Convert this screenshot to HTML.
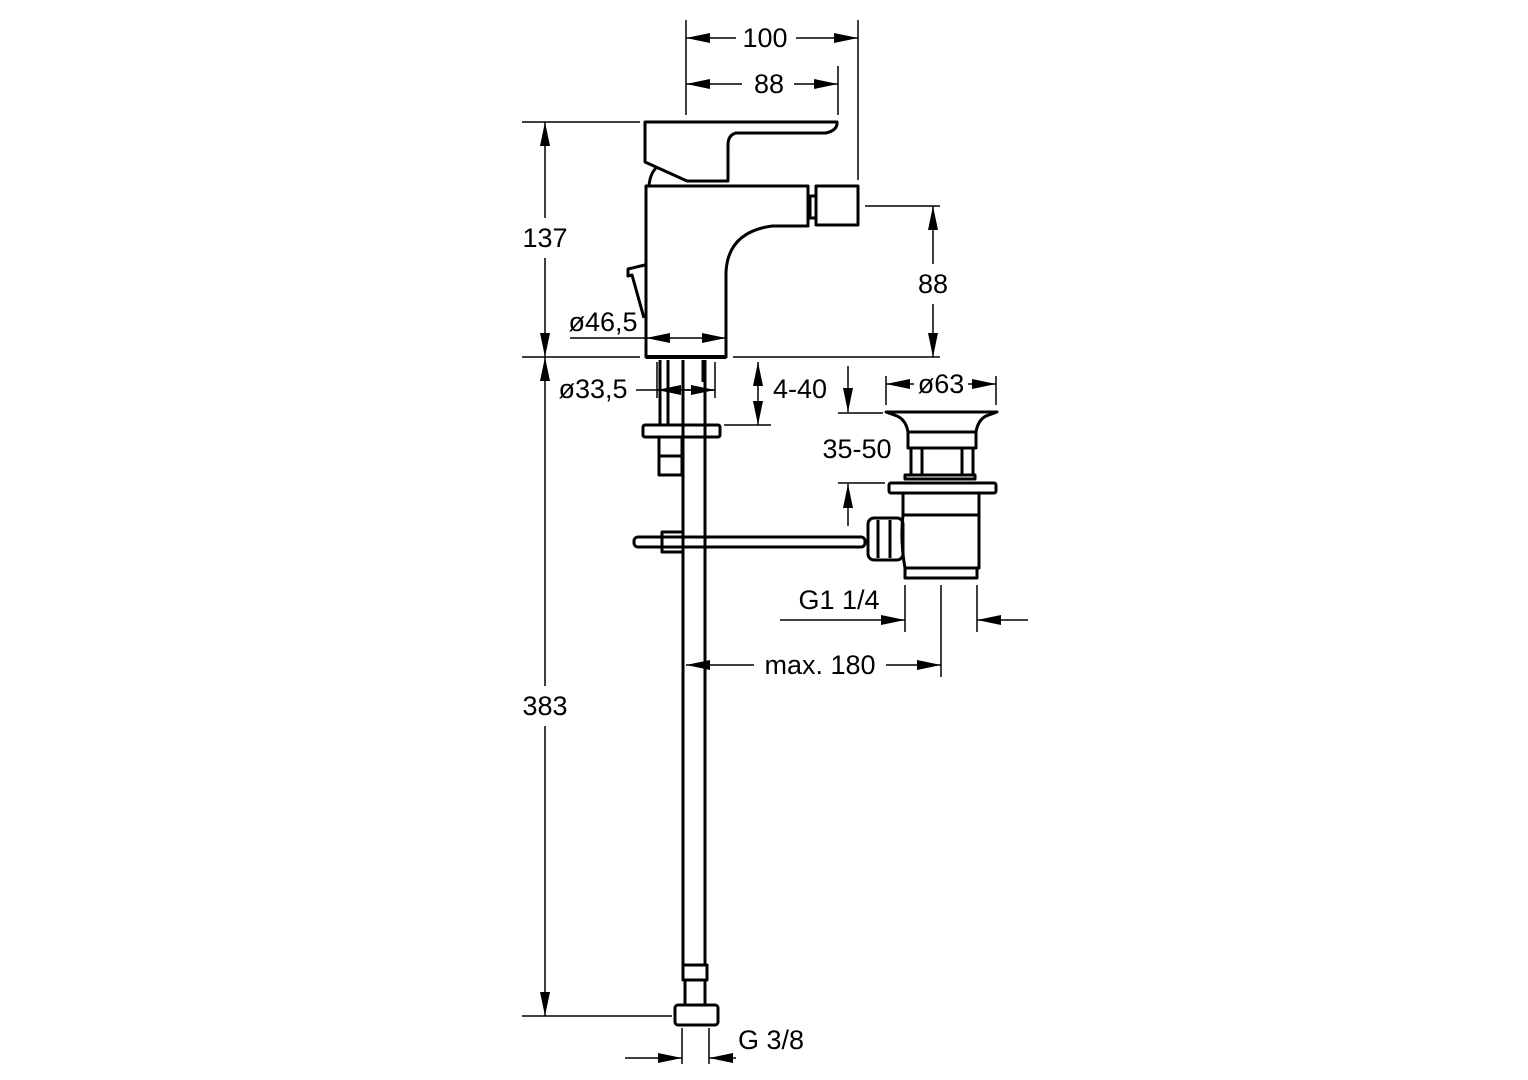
<!DOCTYPE html>
<html><head><style>html,body{margin:0;padding:0;background:#fff}svg{display:block}text{font-family:"Liberation Sans",sans-serif;font-size:27px;fill:#000}</style></head><body>
<svg width="1528" height="1080" viewBox="0 0 1528 1080" xmlns="http://www.w3.org/2000/svg">
<defs>
<marker id="a" viewBox="0 0 24 10" refX="24" refY="5" markerWidth="24" markerHeight="10" markerUnits="userSpaceOnUse" orient="auto-start-reverse"><path d="M0,0L24,5L0,10z" fill="#000"/></marker>
</defs>
<g stroke="#000" stroke-width="1.5" fill="none">
<line x1="686" y1="20" x2="686" y2="115"/><line x1="858" y1="20" x2="858" y2="180"/>
<line x1="838" y1="66" x2="838" y2="115"/>
<line x1="522" y1="122" x2="640" y2="122"/>
<line x1="522" y1="357" x2="640" y2="357"/><line x1="733" y1="357" x2="940" y2="357"/>
<line x1="865" y1="206" x2="940" y2="206"/>
<line x1="522" y1="1016" x2="672" y2="1016"/>
<line x1="657" y1="362" x2="657" y2="398"/><line x1="715" y1="362" x2="715" y2="398"/>
<line x1="724" y1="425" x2="771" y2="425"/>
<line x1="886" y1="376" x2="886" y2="405"/><line x1="996" y1="376" x2="996" y2="405"/>
<line x1="838" y1="413" x2="883" y2="413"/><line x1="838" y1="483" x2="885" y2="483"/>
<line x1="905" y1="585" x2="905" y2="632"/><line x1="977" y1="585" x2="977" y2="632"/><line x1="941" y1="585" x2="941" y2="677"/>
<line x1="682" y1="1028" x2="682" y2="1064"/><line x1="709" y1="1028" x2="709" y2="1064"/>
<line x1="686" y1="38" x2="736" y2="38" marker-start="url(#a)"/><line x1="796" y1="38" x2="858" y2="38" marker-end="url(#a)"/>
<line x1="686" y1="84" x2="742" y2="84" marker-start="url(#a)"/><line x1="794" y1="84" x2="838" y2="84" marker-end="url(#a)"/>
<line x1="545" y1="122" x2="545" y2="218" marker-start="url(#a)"/><line x1="545" y1="258" x2="545" y2="357" marker-end="url(#a)"/>
<line x1="933" y1="206" x2="933" y2="264" marker-start="url(#a)"/><line x1="933" y1="304" x2="933" y2="357" marker-end="url(#a)"/>
<line x1="570" y1="338" x2="646" y2="338"/><line x1="646" y1="338" x2="726" y2="338" marker-start="url(#a)" marker-end="url(#a)"/>
<line x1="545" y1="357" x2="545" y2="686" marker-start="url(#a)"/><line x1="545" y1="726" x2="545" y2="1016" marker-end="url(#a)"/>
<line x1="636" y1="390" x2="715" y2="390"/><line x1="657" y1="390" x2="715" y2="390" marker-start="url(#a)" marker-end="url(#a)"/>
<line x1="758" y1="362" x2="758" y2="425" marker-start="url(#a)" marker-end="url(#a)"/>
<line x1="886" y1="384" x2="914" y2="384" marker-start="url(#a)"/><line x1="968" y1="384" x2="996" y2="384" marker-end="url(#a)"/>
<line x1="848" y1="366" x2="848" y2="412" marker-end="url(#a)"/><line x1="848" y1="526" x2="848" y2="484" marker-end="url(#a)"/>
<line x1="780" y1="620" x2="905" y2="620" marker-end="url(#a)"/><line x1="1028" y1="620" x2="977" y2="620" marker-end="url(#a)"/>
<line x1="686" y1="665" x2="754" y2="665" marker-start="url(#a)"/><line x1="886" y1="665" x2="941" y2="665" marker-end="url(#a)"/>
<line x1="625" y1="1058" x2="682" y2="1058" marker-end="url(#a)"/><line x1="736" y1="1058" x2="709" y2="1058" marker-end="url(#a)"/>
</g>
<g stroke="#000" stroke-width="3" fill="none" stroke-linejoin="round">
<path d="M645,122 L837,122 Q838,130 826,133 L736,133 Q728,135 728,145 L728,181 L687,181 L645,162 Z"/>
<path d="M649,186 Q650,174 656,168"/>
<path d="M646,186 L808,186 L808,226 L772,226 Q728,232 726,272 L726,357 L646,357 Z"/>
<rect x="816" y="186" width="42" height="39"/>
<rect x="810" y="196" width="6" height="22"/>
<path d="M645,265 L628,269 L628,276 L632,275 L644,318"/>
<line x1="646" y1="357" x2="726" y2="357" stroke-width="4"/>
<line x1="660" y1="360" x2="660" y2="425"/><line x1="668" y1="360" x2="668" y2="425"/>
<line x1="683" y1="360" x2="683" y2="965"/><line x1="705" y1="360" x2="705" y2="965"/>
<line x1="703" y1="360" x2="703" y2="382"/>
<rect x="643" y="425" width="77" height="12" rx="2"/>
<rect x="659" y="437" width="23" height="19"/>
<rect x="659" y="456" width="23" height="19"/>
<rect x="634" y="537" width="231" height="10" rx="4"/>
<rect x="662" y="532" width="21" height="20"/>
<rect x="683" y="965" width="24" height="15"/>
<rect x="685" y="980" width="20" height="25"/>
<rect x="675" y="1005" width="43" height="20" rx="3"/>
<path d="M886,412 L997,412 L986,416 Q978,420 976,432 L908,432 Q906,420 897,416 Z"/>
<rect x="908" y="432" width="68" height="16"/>
<rect x="911" y="448" width="11" height="27"/><rect x="962" y="448" width="11" height="27"/>
<rect x="905" y="475" width="70" height="4"/>
<rect x="889" y="483" width="107" height="10" rx="2"/>
<path d="M903,493 L979,493 L979,568 L905,568 Q900,540 903,515 Z"/>
<line x1="903" y1="515" x2="979" y2="515"/>
<rect x="905" y="568" width="72" height="10"/>
<rect x="868" y="518" width="35" height="42" rx="6"/>
<line x1="878" y1="520" x2="878" y2="558"/><line x1="890" y1="520" x2="890" y2="558"/>
</g>
<g text-anchor="middle">
<text x="765" y="47">100</text>
<text x="769" y="93">88</text>
<text x="545" y="247">137</text>
<text x="933" y="293">88</text>
<text x="603" y="331">ø46,5</text>
<text x="545" y="715">383</text>
<text x="593" y="398">ø33,5</text>
<text x="800" y="398">4-40</text>
<text x="941" y="393">ø63</text>
<text x="857" y="458">35-50</text>
<text x="839" y="609">G1 1/4</text>
<text x="820" y="674">max. 180</text>
<text x="771" y="1049">G 3/8</text>
</g>
</svg>
</body></html>
